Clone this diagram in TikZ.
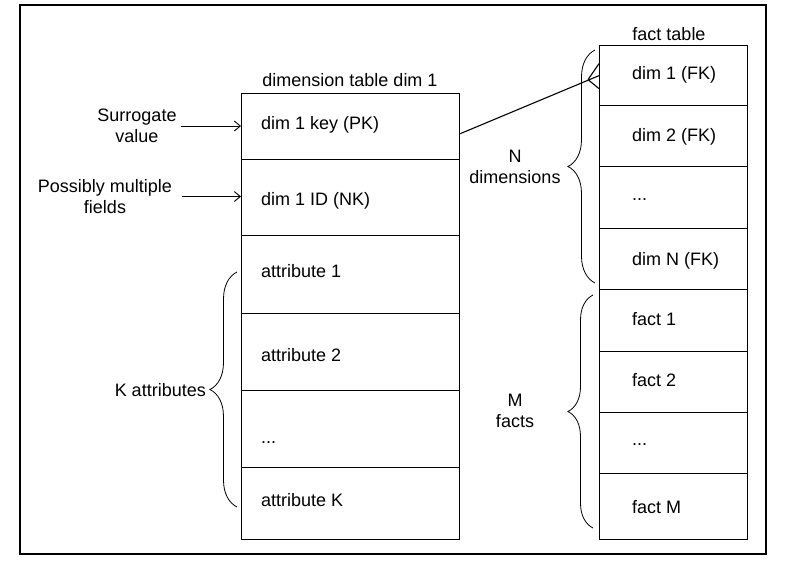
\documentclass[tikz,border=0pt]{standalone}
\usepackage{fontspec}
\setmainfont{Liberation Sans}
\usetikzlibrary{decorations.pathreplacing,arrows.meta}
\begin{document}
\begin{tikzpicture}[x=1pt,y=-1pt,
  every node/.style={font=\fontsize{18}{21}\selectfont, inner sep=0pt},
  cell/.style={draw, line width=1.3pt, anchor=north west, inner sep=0pt},
  lbl/.style={anchor=west},
  brc/.style={decorate, decoration={brace, amplitude=#1}, line width=0.8pt},
  arr/.style={-{Straight Barb[length=6pt,width=10pt]}, line width=0.9pt},
  conn/.style={line width=1.1pt}]
\useasboundingbox (0,0) rectangle (807,565);
% frame
\draw[line width=1.4pt] (20,5) rectangle (766,554);
% dimension table
\node[cell, minimum width=218pt, minimum height=66pt] (dk) at (241,93) {};
\node[cell, minimum width=218pt, minimum height=76pt] (did) at (241,159) {};
\node[cell, minimum width=218pt, minimum height=78pt] (a1) at (241,235) {};
\node[cell, minimum width=218pt, minimum height=77pt] (a2) at (241,313) {};
\node[cell, minimum width=218pt, minimum height=77pt] (ad) at (241,390) {};
\node[cell, minimum width=218pt, minimum height=72pt] (ak) at (241,467) {};
\node[lbl] (tdk) at (261,125) {dim 1 key (PK)};
\node[lbl] (tdid) at (261,201) {dim 1 ID (NK)};
\node[lbl] (ta1) at (261,271) {attribute 1};
\node[lbl] (ta2) at (261,355) {attribute 2};
\node[lbl] (tad) at (261,443) {...};
\node[lbl] (tak) at (261,500) {attribute K};
\node (dhead) at (350,80) {dimension table dim 1};
% fact table
\node[cell, minimum width=148pt, minimum height=60pt] (f1) at (599,45) {};
\node[cell, minimum width=148pt, minimum height=61pt] (f2) at (599,105) {};
\node[cell, minimum width=148pt, minimum height=62pt] (fd) at (599,166) {};
\node[cell, minimum width=148pt, minimum height=61pt] (fn) at (599,228) {};
\node[cell, minimum width=148pt, minimum height=62pt] (m1) at (599,289) {};
\node[cell, minimum width=148pt, minimum height=61pt] (m2) at (599,351) {};
\node[cell, minimum width=148pt, minimum height=61pt] (md) at (599,412) {};
\node[cell, minimum width=148pt, minimum height=66pt] (mm) at (599,473) {};
\node[lbl] (tf1) at (632,75) {dim 1 (FK)};
\node[lbl] (tf2) at (632,137) {dim 2 (FK)};
\node[lbl] (tfd) at (632,200) {...};
\node[lbl] (tfn) at (632,261) {dim N (FK)};
\node[lbl] (tm1) at (632,319) {fact 1};
\node[lbl] (tm2) at (632,380) {fact 2};
\node[lbl] (tmd) at (632,445) {...};
\node[lbl] (tmm) at (632,507) {fact M};
\node (fhead) at (669,34) {fact table};
% left labels
\node[align=center] (sur) at (137,126) {Surrogate\\value};
\node[align=center] (pmf) at (105,196.5) {Possibly multiple\\fields};
\draw[arr] ([xshift=4pt]sur.east) -- (sur.east -| dk.west);
\draw[arr] ([xshift=10pt]pmf.east) -- (pmf.east -| did.west);
% K attributes
\node[anchor=east] (katt) at (206,390) {K attributes};
\coordinate (kb) at (237,507);
\coordinate (kt) at (237,272);
\draw[brc=27pt] (kb) -- (kt);
% N dimensions
\node[align=center] (ndim) at (515,167) {N\\dimensions};
\coordinate (nb) at (595,283);
\coordinate (nt) at (595,50);
\draw[brc=27pt] (nb) -- (nt);
% M facts
\node[align=center] (mfac) at (515,411) {M\\facts};
\coordinate (mb) at (593,528);
\coordinate (mt) at (593,295);
\draw[brc=25pt] (mb) -- (mt);
% connector with crow's foot
\coordinate (foot) at (588,79.6);
\draw[conn] ([yshift=-7pt]dk.east) -- (f1.west);
\draw[conn] (foot) -- ([yshift=12pt]f1.west);
\draw[conn] (foot) -- ([yshift=-13pt]f1.west);
\end{tikzpicture}
\end{document}
